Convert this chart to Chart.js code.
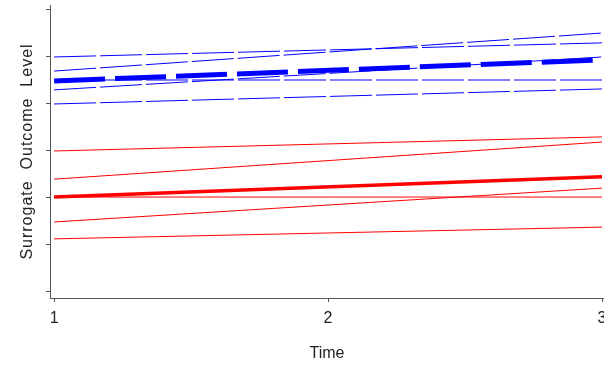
<!DOCTYPE html>
<html>
<head>
<meta charset="utf-8">
<script src="https://cdn.jsdelivr.net/npm/chart.js@4/dist/chart.umd.min.js"></script>
<style>
  html, body { margin: 0; padding: 0; background: #fff; }
  #wrap { width: 604px; height: 367px; position: relative; }
</style>
</head>
<body>
<div id="wrap"><canvas id="chart"></canvas></div>
<script>
// --- Data ---

// two time points, every line is a straight fit between them
const timePoints = [1, 3];
const xTickValues = [1, 2, 3];
const yTickValues = [0, 1, 2, 3, 4, 5, 6];

// blue group (upper cluster)
const blueMean  = [4.49, 4.94];   // thick dashed
const blueFlat  = [4.51, 4.51];
const blueLine1 = [5.00, 5.30];
const blueLine2 = [4.70, 5.51];
const blueLine3 = [4.30, 5.00];
const blueLine4 = [4.00, 4.32];

// red group (lower cluster)
const redMean  = [2.02, 2.45];    // thick solid
const redFlat  = [2.02, 2.02];
const redLine1 = [3.00, 3.30];
const redLine2 = [2.40, 3.19];
const redLine3 = [1.49, 2.21];
const redLine4 = [1.13, 1.38];

const BLUE = '#0000ff';
const RED = '#ff0000';
const AXIS = '#555555';
const TEXT = '#222222';

function pts(values) {
    return values.map((v, i) => ({ x: timePoints[i], y: v }));
}

function line(values, color, width, dash) {
    return {
        data: pts(values),
        borderColor: color,
        borderWidth: width,
        borderDash: dash || [],
        pointRadius: 0,
        fill: false,
        tension: 0
    };
}

const thinDash = [42, 4];

// first dataset is drawn on top
const datasets = [
    line(blueMean, BLUE, 5, [51, 10]),
    line(redMean, RED, 3.5),
    line(blueFlat, BLUE, 1, thinDash),
    line(blueLine1, BLUE, 1, thinDash),
    line(blueLine2, BLUE, 1, thinDash),
    line(blueLine3, BLUE, 1, thinDash),
    line(blueLine4, BLUE, 1, thinDash),
    line(redFlat, RED, 1),
    line(redLine1, RED, 1),
    line(redLine2, RED, 1),
    line(redLine3, RED, 1),
    line(redLine4, RED, 1)
];

// y title in the original is drawn with wide letter spacing
const spacedTitle = {
    id: 'spacedTitle',
    beforeDraw(chart) {
        const s = chart.scales.y;
        if (s._spaced) return;
        const orig = s.drawTitle;
        s.drawTitle = function () {
            const ctx = this.ctx;
            ctx.save();
            ctx.letterSpacing = '1px';
            orig.call(this);
            ctx.restore();
        };
        s._spaced = true;
    }
};

const font = { family: '"Liberation Sans", Arial, sans-serif', size: 16 };

new Chart(document.getElementById('chart'), {
    type: 'line',
    data: { datasets },
    plugins: [spacedTitle],
    options: {
        responsive: true,
        maintainAspectRatio: false,
        animation: false,
        layout: { padding: { top: 5, right: 0, left: 0, bottom: 0 } },
        plugins: {
            legend: { display: false },
            tooltip: { enabled: false }
        },
        scales: {
            x: {
                type: 'linear',
                min: 0.985,
                max: 3.0073,
                afterBuildTicks: (scale) => {
                    scale.ticks = xTickValues.map(v => ({ value: v }));
                },
                afterFit: (scale) => {
                    scale.height = 69;
                    scale.paddingLeft = 0;
                    scale.paddingRight = 0;
                },
                grid: {
                    drawOnChartArea: false,
                    drawTicks: true,
                    tickLength: 4,
                    tickColor: AXIS
                },
                border: { display: true, color: AXIS, width: 1 },
                ticks: {
                    color: TEXT,
                    font: font,
                    padding: 7,
                    maxRotation: 0,
                    callback: (v) => String(v)
                },
                title: {
                    display: true,
                    text: 'Time',
                    color: TEXT,
                    font: font,
                    padding: { top: 0, bottom: 4 }
                }
            },
            y: {
                type: 'linear',
                min: -0.128,
                max: 6.106,
                afterBuildTicks: (scale) => {
                    scale.ticks = yTickValues.map(v => ({ value: v }));
                },
                afterFit: (scale) => {
                    scale.width = 50;
                },
                grid: {
                    drawOnChartArea: false,
                    drawTicks: true,
                    tickLength: 4,
                    tickColor: AXIS
                },
                border: { display: true, color: AXIS, width: 1 },
                ticks: { display: false },
                title: {
                    display: true,
                    text: 'Surrogate  Outcome  Level',
                    color: TEXT,
                    font: font,
                    padding: { top: 18, bottom: 0 }
                }
            }
        }
    }
});
</script>
</body>
</html>
